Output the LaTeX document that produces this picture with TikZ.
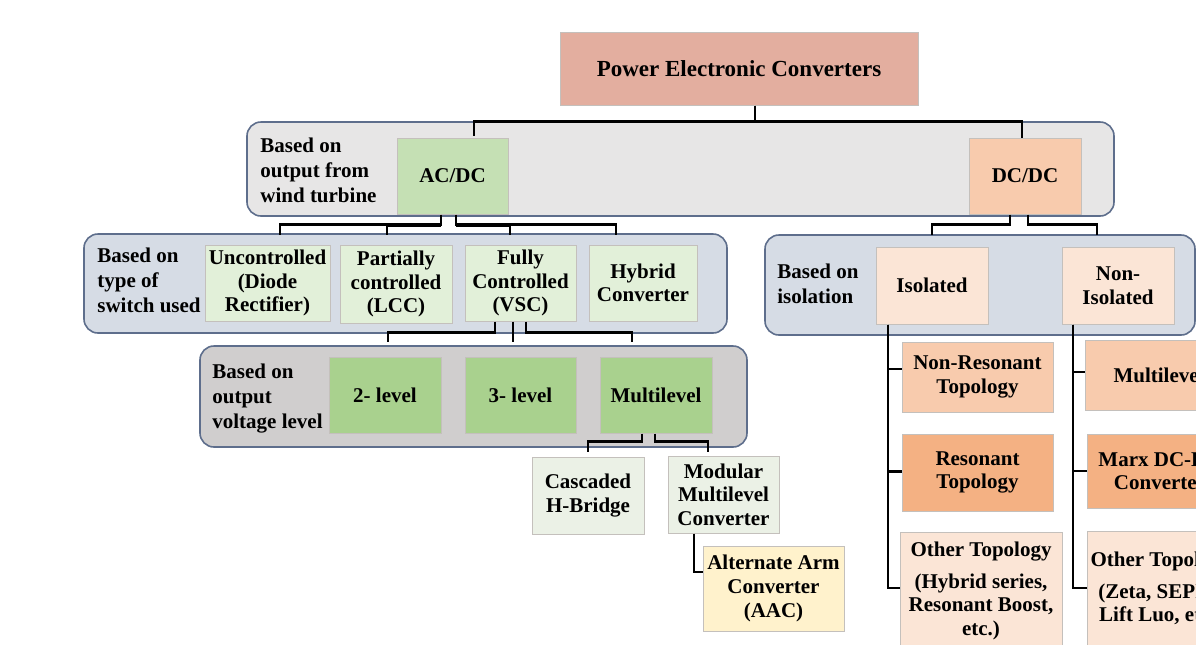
\documentclass[tikz,border=0pt]{standalone}
\usepackage{fontspec}
\setmainfont{Liberation Serif}
\usepackage{xcolor}
\usetikzlibrary{calc}

\definecolor{rootfill}{HTML}{E3AE9F}
\definecolor{grayband}{HTML}{E7E6E6}
\definecolor{blueband}{HTML}{D6DCE5}
\definecolor{darkband}{HTML}{D0CECE}
\definecolor{groupline}{HTML}{5E6E8C}
\definecolor{cellline}{HTML}{C4C0BC}
\definecolor{acfill}{HTML}{C5E0B4}
\definecolor{dcfill}{HTML}{F8CBAD}
\definecolor{swfill}{HTML}{E2F0D9}
\definecolor{lvlfill}{HTML}{A9D18E}
\definecolor{mlfill}{HTML}{EBF1E6}
\definecolor{aacfill}{HTML}{FFF2CC}
\definecolor{isofill}{HTML}{FBE5D6}
\definecolor{resfill}{HTML}{F4B183}

\newcommand{\rootfont}{\fontsize{11.5}{13}\selectfont\bfseries}
\newcommand{\cellfont}{\fontsize{10.5}{11.8}\selectfont\bfseries}
\newcommand{\tagfont}{\fontsize{10.5}{12.5}\selectfont\bfseries}

\begin{document}
\begin{tikzpicture}[
  x=0.5pt, y=-0.5pt,
  dims/.style 2 args={minimum width=#1*0.5pt, minimum height=#2*0.5pt},
  group/.style={draw=groupline, line width=0.8pt, rounded corners=7pt, inner sep=0},
  cell/.style={draw=cellline, line width=0.5pt, inner sep=0, align=center, font=\cellfont},
  tag/.style={anchor=base west, inner sep=0, align=left, font=\tagfont},
  link/.style={line width=1.1pt, black},
]
\useasboundingbox (0,0) rectangle (1196,644);
\clip (0,0) rectangle (1196,644);

% Root
\node[cell, fill=rootfill, dims={358}{73}, font=\rootfont] (root) at (739,68.5) {Power Electronic Converters};

% Band 1: output from wind turbine
\node[group, fill=grayband, dims={867}{94}] (bandA) at (680.5,169) {};
\node[tag] (tagA) at (260,202) {Based on\\output from\\wind turbine};
\node[cell, fill=acfill, dims={111}{76}] (acdc) at (452.5,176) {AC/DC};
\node[cell, fill=dcfill, dims={112}{76}] (dcdc) at (1025,176) {DC/DC};

% Band 2: type of switch
\node[group, fill=blueband, dims={643}{99}] (bandB) at (405.5,283.5) {};
\node[tag] (tagB) at (97,312) {Based on\\type of\\switch used};
\node[cell, fill=swfill, dims={125}{76}] (unctrl) at (267.5,283) {Uncontrolled\\(Diode\\Rectifier)};
\node[cell, fill=swfill, dims={112}{78}] (partial) at (396,284) {Partially\\controlled\\(LCC)};
\node[cell, fill=swfill, dims={111}{76}] (fully) at (520.5,283) {Fully\\Controlled\\(VSC)};
\node[cell, fill=swfill, dims={108}{76}] (hybrid) at (643,283) {Hybrid\\Converter};

% Band 3: output voltage level
\node[group, fill=darkband, dims={547}{101}] (bandC) at (473.5,396.5) {};
\node[tag] (tagC) at (212,428) {Based on\\output\\voltage level};
\node[cell, fill=lvlfill, dims={112}{76}] (twolvl) at (385,395) {2- level};
\node[cell, fill=lvlfill, dims={111}{76}] (threelvl) at (520.5,395) {3- level};
\node[cell, fill=lvlfill, dims={112}{76}] (multi) at (656,395) {Multilevel};

% Multilevel variants
\node[cell, fill=mlfill, dims={112}{77}] (chb) at (588,495.5) {Cascaded\\H-Bridge};
\node[cell, fill=mlfill, dims={111}{77}] (mmc) at (723.5,494.5) {Modular\\Multilevel\\Converter};
\node[cell, fill=aacfill, dims={141}{85}] (aac) at (773.5,588.5) {Alternate Arm\\Converter\\(AAC)};

% Band 4: isolation
\node[group, fill=blueband, dims={430}{100}] (bandD) at (980,285) {};
\node[tag] (tagD) at (777,303) {Based on\\isolation};
\node[cell, fill=isofill, dims={112}{77}] (iso) at (932,285.5) {Isolated};
\node[cell, fill=isofill, dims={112}{77}] (noniso) at (1118,285.5) {Non-\\Isolated};

% Isolated topologies
\node[cell, fill=dcfill, dims={151}{70}] (nonres) at (977.5,377) {Non-Resonant\\Topology};
\node[cell, fill=resfill, dims={151}{77}] (res) at (977.5,472.5) {Resonant\\Topology};
\node[cell, fill=isofill, dims={162}{118}] (otheriso) at (981,591) {Other Topology\\[4pt](Hybrid series,\\Resonant Boost,\\etc.)};

% Non-isolated topologies
\node[cell, fill=dcfill, dims={148}{70}] (mlvdc) at (1159,375) {Multilevel};
\node[cell, fill=resfill, dims={146}{74}] (marx) at (1160,471) {Marx DC-DC\\Converter};
\node[cell, fill=isofill, dims={148}{116}] (othernon) at (1161,589) {Other Topology\\[4pt](Zeta, SEPIC,\\Lift Luo, etc.)};

% Connectors
\draw[link] ($(root.south)+(16,0)$) |- ($(acdc.north)+(21.5,-16)$) -- ++(0,14);
\draw[link] ($(root.south)+(16,0)$) |- ($(dcdc.north)+(-3,-16)$) -- ++(0,16);

\draw[link] ($(acdc.south)+(-11.5,0)$) |- ($(unctrl.north)+(12.5,-20)$) -- ++(0,10);
\draw[link] ($(acdc.south)+(-11.5,11)$) -| ($(partial.north)+(-9,-10)$);
\draw[link] ($(acdc.south)+(3.5,0)$) |- ($(hybrid.north)+(-27,-20)$) -- ++(0,10);
\draw[link] ($(acdc.south)+(3.5,11)$) -| ($(fully.north)+(-10.5,-10)$);

\draw[link] ($(fully.south)+(-25.5,0)$) |- ($(twolvl.north)+(3,-24)$) -- ++(0,9);
\draw[link] ($(fully.south)+(-7.5,0)$) -- ($(threelvl.north)+(-7.5,-15)$);
\draw[link] ($(fully.south)+(5.5,0)$) |- ($(multi.north)+(-24,-24)$) -- ++(0,9);

\draw[link] ($(multi.south)+(-14,0)$) |- ($(chb.north)+(0,-15)$) -- ++(0,10);
\draw[link] ($(multi.south)+(-1,0)$) |- ($(mmc.north)+(-15.5,-14)$) -- ++(0,10);
\draw[link] ($(mmc.south)+(-29.5,0)$) |- ($(aac.west)+(0,-16.5)$);

\draw[link] ($(dcdc.south)+(-15,0)$) |- ($(iso.north)+(0,-22)$) -- ++(0,10);
\draw[link] ($(dcdc.south)+(3,0)$) |- ($(noniso.north)+(-21,-22)$) -- ++(0,10);

\foreach \leaf/\dy in {nonres/-8, res/-1, otheriso/-3}
  \draw[link] ($(iso.south)+(-44,0)$) |- ($(\leaf.west)+(0,\dy)$);
\foreach \leaf/\dy in {mlvdc/-3, marx/0, othernon/-1}
  \draw[link] ($(noniso.south)+(-45,0)$) |- ($(\leaf.west)+(0,\dy)$);

\end{tikzpicture}
\end{document}
